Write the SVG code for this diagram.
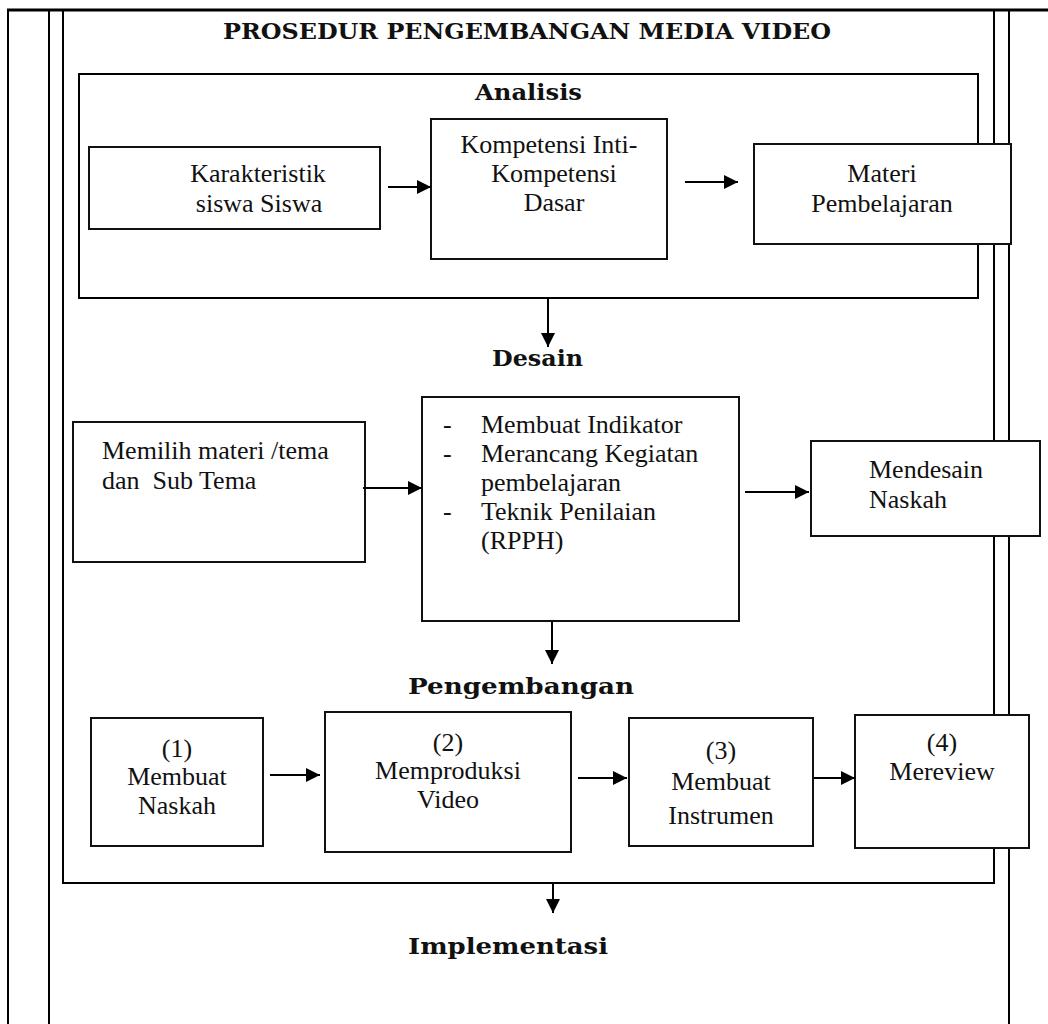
<svg xmlns="http://www.w3.org/2000/svg" width="1048" height="1024" viewBox="0 0 1048 1024">
  <defs>
    <marker id="arrow" markerWidth="14" markerHeight="14" refX="14" refY="7" orient="auto" markerUnits="userSpaceOnUse">
      <path d="M0,0 L14,7 L0,14 z" fill="#000"/>
    </marker>
    <style>
      .frame { fill: none; stroke: #000; stroke-width: 2; }
      .box { fill: #fff; stroke: #111; stroke-width: 2; }
      .conn { stroke: #000; stroke-width: 2; fill: none; marker-end: url(#arrow); }
      .t { font-family: "Liberation Serif", "Times New Roman", serif; font-size: 26px; fill: #111; }
      .c { text-anchor: middle; }
      .h { font-family: "DejaVu Serif", "Liberation Serif", serif; font-weight: bold; font-size: 23px; fill: #111; }
    </style>
  </defs>

  <!-- page frame -->
  <g id="frame">
    <line x1="7" y1="10" x2="1048" y2="10" stroke="#000" stroke-width="3"/>
    <line class="frame" x1="8" y1="9" x2="8" y2="1024"/>
    <line class="frame" x1="49" y1="10" x2="49" y2="1024"/>
    <line class="frame" x1="1009" y1="10" x2="1009" y2="1024"/>
    <rect class="frame" x="63" y="10" width="931" height="873"/>
    <text class="h" x="223" y="39" textLength="608" lengthAdjust="spacingAndGlyphs">PROSEDUR PENGEMBANGAN MEDIA VIDEO</text>
  </g>

  <!-- Analisis stage -->
  <g id="analisis">
    <rect class="frame" x="79" y="74" width="899" height="224"/>
    <text class="h" x="475" y="100" textLength="107" lengthAdjust="spacingAndGlyphs">Analisis</text>
  </g>
  <g id="karakteristik">
    <rect class="box" x="89" y="147" width="291" height="82"/>
    <text class="t c" x="258" y="182">Karakteristik</text>
    <text class="t c" x="259" y="212">siswa Siswa</text>
  </g>
  <g id="kompetensi">
    <rect class="box" x="431" y="119" width="236" height="140"/>
    <text class="t c" x="549" y="153">Kompetensi Inti-</text>
    <text class="t c" x="554" y="182">Kompetensi</text>
    <text class="t c" x="554" y="211">Dasar</text>
  </g>
  <g id="materi">
    <rect class="box" x="754" y="144" width="257" height="100"/>
    <text class="t c" x="882" y="182">Materi</text>
    <text class="t c" x="882" y="212">Pembelajaran</text>
  </g>

  <!-- Desain stage -->
  <g id="desain">
    <text class="h" x="492" y="366" textLength="91" lengthAdjust="spacingAndGlyphs">Desain</text>
  </g>
  <g id="memilih">
    <rect class="box" x="73" y="422" width="292" height="140"/>
    <text class="t" x="102" y="459">Memilih materi /tema</text>
    <text class="t" x="102" y="489" xml:space="preserve">dan  Sub Tema</text>
  </g>
  <g id="rpph">
    <rect class="box" x="422" y="397" width="317" height="224"/>
    <text class="t" x="443" y="433">-</text>
    <text class="t" x="481" y="433">Membuat Indikator</text>
    <text class="t" x="443" y="462">-</text>
    <text class="t" x="481" y="462">Merancang Kegiatan</text>
    <text class="t" x="481" y="491">pembelajaran</text>
    <text class="t" x="443" y="520">-</text>
    <text class="t" x="481" y="520">Teknik Penilaian</text>
    <text class="t" x="481" y="549">(RPPH)</text>
  </g>
  <g id="mendesain">
    <rect class="box" x="811" y="441" width="229" height="95"/>
    <text class="t" x="869" y="478">Mendesain</text>
    <text class="t" x="869" y="508">Naskah</text>
  </g>

  <!-- Pengembangan stage -->
  <g id="pengembangan">
    <text class="h" x="408" y="694" textLength="226" lengthAdjust="spacingAndGlyphs">Pengembangan</text>
  </g>
  <g id="step1">
    <rect class="box" x="91" y="718" width="172" height="128"/>
    <text class="t c" x="177" y="757">(1)</text>
    <text class="t c" x="177" y="785">Membuat</text>
    <text class="t c" x="177" y="814">Naskah</text>
  </g>
  <g id="step2">
    <rect class="box" x="325" y="712" width="246" height="140"/>
    <text class="t c" x="448" y="751">(2)</text>
    <text class="t c" x="448" y="779">Memproduksi</text>
    <text class="t c" x="448" y="808">Video</text>
  </g>
  <g id="step3">
    <rect class="box" x="629" y="718" width="184" height="128"/>
    <text class="t c" x="721" y="759">(3)</text>
    <text class="t c" x="721" y="790">Membuat</text>
    <text class="t c" x="721" y="824">Instrumen</text>
  </g>
  <g id="step4">
    <rect class="box" x="855" y="715" width="174" height="133"/>
    <text class="t c" x="942" y="751">(4)</text>
    <text class="t c" x="942" y="780">Mereview</text>
  </g>

  <!-- Implementasi stage -->
  <g id="implementasi">
    <text class="h" x="408" y="954" textLength="200" lengthAdjust="spacingAndGlyphs">Implementasi</text>
  </g>

  <!-- connectors -->
  <g id="connectors">
    <line class="conn" x1="388" y1="187" x2="431" y2="187"/>
    <line class="conn" x1="685" y1="182" x2="738" y2="182"/>
    <line class="conn" x1="548" y1="298" x2="548" y2="347"/>
    <line class="conn" x1="363" y1="488" x2="422" y2="488"/>
    <line class="conn" x1="745" y1="492" x2="809" y2="492"/>
    <line class="conn" x1="552" y1="621" x2="552" y2="664"/>
    <line class="conn" x1="270" y1="775" x2="320" y2="775"/>
    <line class="conn" x1="578" y1="778" x2="627" y2="778"/>
    <line class="conn" x1="814" y1="778" x2="855" y2="778"/>
    <line class="conn" x1="553" y1="883" x2="553" y2="913"/>
  </g>
</svg>
